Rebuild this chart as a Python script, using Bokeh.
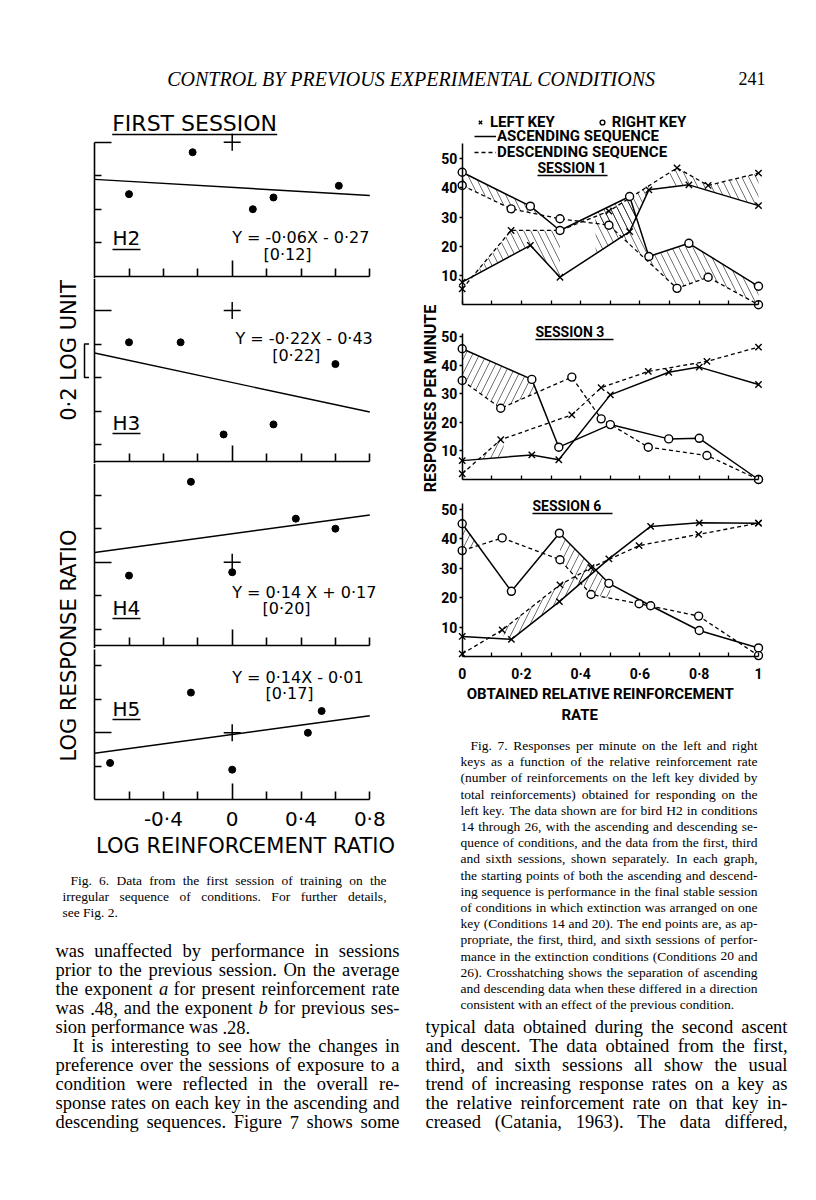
import math
import numpy as np
from bokeh.plotting import figure
from bokeh.layouts import column, row
from bokeh.models import (LinearAxis, FixedTicker, Label, Legend, LegendItem,
                          Range1d, CustomJSTickFormatter, Spacer, ColumnDataSource)
from bokeh.embed import file_html
from bokeh.resources import INLINE
from bokeh.core.properties import value, field

# ---------------- Fig. 6 data: log reinforcement ratio vs log response ratio ----------------
fig6_names = ["H2", "H3", "H4", "H5"]
h2_x = [-0.60, -0.23, 0.12, 0.24, 0.62]
h2_y = [-0.31, -0.06, -0.40, -0.33, -0.26]
h3_x = [-0.60, -0.30, -0.05, 0.24, 0.60]
h3_y = [-0.19, -0.19, -0.74, -0.68, -0.32]
h4_x = [-0.60, -0.24, 0.00, 0.37, 0.60]
h4_y = [-0.08, 0.48, -0.06, 0.26, 0.20]
h5_x = [-0.71, -0.24, 0.00, 0.44, 0.52]
h5_y = [-0.18, 0.24, -0.22, 0.00, 0.13]
fit_slope = [-0.06, -0.22, 0.14, 0.14]
fit_intercept = [-0.27, -0.43, 0.17, -0.01]
fit_equation = ["Y = -0·06X - 0·27", "Y = -0·22X - 0·43", "Y = 0·14 X + 0·17", "Y = 0·14X - 0·01"]
fit_error = ["[0·12]", "[0·22]", "[0·20]", "[0·17]"]
origin_x = [0.0]
origin_y = [0.0]
fig6_ticks = [-0.8, -0.6, -0.4, -0.2, 0.0, 0.2, 0.4, 0.6, 0.8]
fig6_tick_labels = [-0.4, 0.0, 0.4, 0.8]

# ---------------- Fig. 7 data: responses per minute vs obtained relative reinforcement rate ----------------
session_names = ["SESSION 1", "SESSION 3", "SESSION 6"]
s1_asc_x = [0.0, 0.23, 0.33, 0.565, 0.63, 0.765, 1.0]
s1_left_asc = [7.7, 20.3, 9.4, 25.0, 39.3, 41.0, 33.9]
s1_right_asc = [45.3, 33.7, 25.4, 37.0, 16.5, 21.0, 6.3]
s1_desc_x = [0.0, 0.165, 0.33, 0.495, 0.725, 0.83, 1.0]
s1_left_desc = [5.4, 25.4, 25.4, 32.0, 46.8, 40.8, 45.0]
s1_right_desc = [40.8, 32.8, 29.4, 27.2, 5.6, 9.4, 0.0]

s3_asc_x = [0.0, 0.235, 0.326, 0.50, 0.697, 0.80, 1.0]
s3_left_asc = [6.6, 8.6, 6.9, 29.6, 37.5, 39.3, 33.2]
s3_right_asc = [45.7, 35.0, 11.3, 19.2, 14.2, 14.4, 0.0]
s3_desc_x = [0.0, 0.13, 0.37, 0.469, 0.628, 0.826, 1.0]
s3_left_desc = [2.0, 13.9, 22.6, 32.1, 37.8, 41.3, 46.3]
s3_right_desc = [34.6, 24.9, 35.8, 21.2, 11.3, 8.4, 0.0]

s6_asc_x = [0.0, 0.166, 0.328, 0.495, 0.636, 0.80, 1.0]
s6_left_asc = [6.8, 5.8, 18.6, 33.1, 44.1, 45.3, 45.2]
s6_right_asc = [45.0, 22.1, 41.8, 24.8, 17.2, 8.8, 2.9]
s6_desc_x = [0.0, 0.135, 0.33, 0.435, 0.597, 0.798, 1.0]
s6_left_desc = [0.9, 9.0, 24.3, 30.1, 37.6, 41.4, 45.2]
s6_right_desc = [35.9, 40.2, 32.8, 21.0, 17.9, 13.7, 0.3]

# crosshatched spans: (key, from, to)
s1_hatch = [("right", 0.0, 0.26), ("left", 0.04, 0.33), ("left", 0.45, 0.63),
            ("left", 0.70, 1.0), ("right", 0.45, 1.0)]
s3_hatch = [("right", 0.0, 0.25), ("left", 0.06, 0.14)]
s6_hatch = [("right", 0.0, 0.05), ("left", 0.14, 0.45), ("right", 0.33, 0.50)]
fig7_y_ticks = [10, 20, 30, 40, 50]
fig7_x_ticks = [0.0, 0.2, 0.4, 0.6, 0.8, 1.0]
fig7_x_minor = [0.1, 0.3, 0.5, 0.7, 0.9]

# ---------------- texts ----------------
header_title = "CONTROL BY PREVIOUS EXPERIMENTAL CONDITIONS"
page_number = "241"
caption6 = ["Fig. 6. Data from the first session of training on the",
            "irregular sequence of conditions. For further details,",
            "see Fig. 2."]
body_left = ["was unaffected by performance in sessions",
             "prior to the previous session. On the average",
             "the exponent a for present reinforcement rate",
             "was .48, and the exponent b for previous ses-",
             "sion performance was .28.",
             "It is interesting to see how the changes in",
             "preference over the sessions of exposure to a",
             "condition were reflected in the overall re-",
             "sponse rates on each key in the ascending and",
             "descending sequences. Figure 7 shows some"]
caption7 = ["Fig. 7. Responses per minute on the left and right",
            "keys as a function of the relative reinforcement rate",
            "(number of reinforcements on the left key divided by",
            "total reinforcements) obtained for responding on the",
            "left key. The data shown are for bird H2 in conditions",
            "14 through 26, with the ascending and descending se-",
            "quence of conditions, and the data from the first, third",
            "and sixth sessions, shown separately. In each graph,",
            "the starting points of both the ascending and descend-",
            "ing sequence is performance in the final stable session",
            "of conditions in which extinction was arranged on one",
            "key (Conditions 14 and 20). The end points are, as ap-",
            "propriate, the first, third, and sixth sessions of perfor-",
            "mance in the extinction conditions (Conditions 20 and",
            "26). Crosshatching shows the separation of ascending",
            "and descending data when these differed in a direction",
            "consistent with an effect of the previous condition."]
body_right = ["typical data obtained during the second ascent",
              "and descent. The data obtained from the first,",
              "third, and sixth sessions all show the usual",
              "trend of increasing response rates on a key as",
              "the relative reinforcement rate on that key in-",
              "creased (Catania, 1963). The data differed,"]

FONT6 = "DejaVu Sans"
FONT7 = "Roboto"
SERIF = "Liberation Serif"
INK = "black"
BODY_PX = 18.5
CAP_PX = 13.5
NB = "\u00a0"

BLANK = CustomJSTickFormatter(code="return '';")
DOTFMT = CustomJSTickFormatter(code="""
    if (Math.abs(tick) < 1e-9) return '0';
    if (Math.abs(tick - 1) < 1e-9) return '1';
    return tick.toFixed(1).replace('.', '\u00b7');
""")

# Times-compatible advance widths (per 1000 em) used to justify the serif text lines
_TW = {' ': 250, ',': 250, '.': 250, '-': 333, '(': 333, ')': 333, ':': 278, ';': 278}
_TW.update({d: 500 for d in "0123456789"})
_TW.update(dict(zip("ABCDEFGHIJKLMNOPQRSTUVWXYZ",
                    [722, 667, 667, 722, 611, 556, 722, 722, 333, 389, 722, 611, 889,
                     722, 722, 556, 722, 667, 556, 611, 722, 722, 944, 722, 722, 611])))
_TW.update(dict(zip("abcdefghijklmnopqrstuvwxyz",
                    [444, 500, 444, 500, 444, 333, 500, 500, 278, 278, 500, 278, 778,
                     500, 500, 500, 500, 333, 389, 278, 500, 500, 722, 500, 500, 444])))


def tw(s, size):
    return sum(_TW.get(c, 500) for c in s) * size / 1000.0


def justified(lines, x_left, x_right, y_first, dy, size, free=(), indent=None, italic=()):
    indent = indent or {}
    out = dict(x=[], y=[], text=[], align=[], style=[])
    for j, line in enumerate(lines):
        y = y_first + dy * j
        x0 = x_left + indent.get(j, 0)
        words = line.split()
        if j in free or len(words) < 2:
            pos = x0
            for n, w in enumerate(words):
                out["x"].append(pos); out["y"].append(y); out["text"].append(w)
                out["align"].append("left")
                out["style"].append("italic" if (j, n) in italic else "normal")
                pos += tw(w, size) + tw(" ", size)
            continue
        total = sum(tw(w, size) for w in words)
        gap = (x_right - x0 - total) / (len(words) - 1)
        pos = x0
        for n, w in enumerate(words):
            last = n == len(words) - 1
            out["x"].append(x_right if last else pos)
            out["y"].append(y)
            out["text"].append(w)
            out["align"].append("right" if last else "left")
            out["style"].append("italic" if (j, n) in italic else "normal")
            pos += tw(w, size) + gap
    return out


def base(width, height, x0, x1, y0, y1, mb=0):
    p = figure(width=width, height=height,
               x_range=Range1d(x0, x1), y_range=Range1d(y0, y1),
               output_backend="svg", toolbar_location=None,
               x_axis_type=None, y_axis_type=None,
               min_border_left=0, min_border_right=0,
               min_border_top=0, min_border_bottom=mb)
    p.outline_line_color = None
    p.background_fill_color = "white"
    p.border_fill_color = "white"
    return p


def page_fig(left, top, right, bottom):
    # a figure whose data coordinates are page pixels (y downwards)
    return base(right - left, bottom - top, left, right, bottom, top)


def add_text_block(p, data, size):
    p.text(x="x", y="y", text="text", source=ColumnDataSource(data),
           text_align=field("align"), text_font_style=field("style"),
           text_font=value(SERIF), text_font_size=value(f"{size}px"),
           text_baseline="middle", text_color=INK)


# ---------------- header ----------------
head = page_fig(8, 8, 808, 100)
head.text(x=[411], y=[78], text=[header_title], text_font=value(SERIF),
          text_font_style=value("italic"), text_font_size=value("20px"),
          text_align="center", text_baseline="middle", text_color=INK)
head.text(x=[765], y=[78], text=[page_number], text_font=value(SERIF),
          text_font_size=value("18px"), text_align="right", text_baseline="middle",
          text_color=INK)

# ---------------- Fig. 6 ----------------
X0_6, SX6, SY6 = 231.7, 172.0, 167.5          # page x of X=0, px per unit (x, y)
P6_L, P6_W = 90, 310
fig6_zero = [141.7, 310.0, 561.7, 732.3]       # page y of Y=0 in each panel
fig6_rows = [(100, 278), (278, 463), (463, 648), (648, 802)]
fig6_base = [-0.8, -0.9, -0.5, -0.4]           # panel baseline value
fig6_top = [0.0, 0.2, 0.6, 0.5]                # top of left axis
fig6_label_pos = [(112, 237, 249), (112, 422, 433), (112, 607, 618), (112, 708, 719)]
fig6_eq_pos = [(231.7, 237), (235, 338), (231.7, 592), (231.7, 677)]
fig6_err_pos = [(263, 254), (271.7, 355), (262, 608), (265, 693)]
fig6_xy = [(h2_x, h2_y), (h3_x, h3_y), (h4_x, h4_y), (h5_x, h5_y)]

panels6 = []
for i, name in enumerate(fig6_names):
    top, bot = fig6_rows[i]
    y0 = fig6_zero[i]
    mb = 60 if i == 3 else 0

    def tox(px):
        return (px - X0_6) / SX6

    def toy(py, y0=y0):
        return (y0 - py) / SY6

    p = base(P6_W, bot - top + mb, tox(P6_L), tox(P6_L + P6_W), toy(bot), toy(top), mb=mb)

    minors = [round(t, 1) for t in np.arange(-1.0, 1.01, 0.2)
              if fig6_base[i] + 0.01 < t < fig6_top[i] - 0.01 and abs(t) > 1e-6]
    lo = toy(bot) if i < 3 else fig6_base[i]
    ya = LinearAxis(fixed_location=fig6_ticks[0], bounds=(lo, fig6_top[i]),
                    ticker=FixedTicker(ticks=[0.0], minor_ticks=minors),
                    major_tick_in=17, major_tick_out=0, minor_tick_in=7, minor_tick_out=0,
                    formatter=BLANK, axis_line_width=1.6, major_tick_line_width=1.6,
                    minor_tick_line_width=1.6, axis_line_color=INK)
    p.add_layout(ya, "left")
    xminor = [t for t in fig6_ticks if abs(t) > 1e-6 and t > fig6_ticks[0]]
    xa = LinearAxis(fixed_location=fig6_base[i], bounds=(fig6_ticks[0], fig6_ticks[-1]),
                    ticker=FixedTicker(ticks=[0.0], minor_ticks=xminor),
                    major_tick_in=16, major_tick_out=0, minor_tick_in=8, minor_tick_out=0,
                    formatter=BLANK, axis_line_width=1.6, major_tick_line_width=1.6,
                    minor_tick_line_width=1.6, axis_line_color=INK)
    p.add_layout(xa, "below")
    if i == 3:
        la = LinearAxis(ticker=FixedTicker(ticks=fig6_tick_labels), formatter=DOTFMT,
                        major_tick_in=0, major_tick_out=0, minor_tick_in=0, minor_tick_out=0,
                        axis_line_color=None, major_label_standoff=4,
                        axis_label="LOG REINFORCEMENT RATIO", axis_label_standoff=0,
                        major_label_text_font=FONT6, major_label_text_font_size="20px",
                        major_label_text_color=INK,
                        axis_label_text_font=FONT6, axis_label_text_font_size="21px",
                        axis_label_text_font_style="normal", axis_label_text_color=INK)
        p.add_layout(la, "below")

    xs, ys = fig6_xy[i]
    x_ends = [fig6_ticks[0], fig6_ticks[-1]]
    p.line(x_ends, [fit_slope[i] * v + fit_intercept[i] for v in x_ends],
           line_color=INK, line_width=1.4)
    p.scatter(xs, ys, marker="circle", size=7, fill_color=INK, line_color=INK)
    p.scatter(origin_x, origin_y, marker="cross", size=17, line_color=INK, line_width=1.5)

    lx, ly, uy = fig6_label_pos[i]
    p.add_layout(Label(x=tox(lx), y=toy(ly), text=name, text_font=FONT6,
                       text_font_size="20px", text_baseline="middle", text_color=INK))
    p.segment(x0=[tox(lx)], y0=[toy(uy)], x1=[tox(lx + 28)], y1=[toy(uy)],
              line_color=INK, line_width=1.5)
    ex, ey = fig6_eq_pos[i]
    p.add_layout(Label(x=tox(ex), y=toy(ey), text=fit_equation[i], text_font=FONT6,
                       text_font_size="16px", text_baseline="middle", text_color=INK))
    rx, ry = fig6_err_pos[i]
    p.add_layout(Label(x=tox(rx), y=toy(ry), text=fit_error[i], text_font=FONT6,
                       text_font_size="16px", text_baseline="middle", text_color=INK))
    if i == 0:
        p.add_layout(Label(x=tox(111.7), y=toy(123), text="FIRST SESSION", text_font=FONT6,
                           text_font_size="22px", text_baseline="middle", text_color=INK))
        p.segment(x0=[tox(111.7)], y0=[toy(134)], x1=[tox(276.7)], y1=[toy(134)],
                  line_color=INK, line_width=1.5)
    panels6.append(p)

lab6 = page_fig(8, 100, 90, 862)
lab6.text(x=[68, 68], y=[350, 645], text=["0·2 LOG UNIT", "LOG RESPONSE RATIO"],
          angle=math.pi / 2, text_font=value(FONT6), text_font_size=value("21px"),
          text_align="center", text_baseline="middle", text_color=INK)
b_top = fig6_zero[1] + 0.2 * SY6
b_bot = fig6_zero[1] + 0.4 * SY6
lab6.line(x=[88.5, 84, 84, 88.5], y=[b_top, b_top, b_bot, b_bot], line_color=INK, line_width=1.5)

# ---------------- Fig. 7 ----------------
X0_7, SX7 = 461.7, 296.3
P7_L, P7_R = 440, 808
fig7_zero = [304.2, 479.0, 656.0]
fig7_scale = [2.923, 2.86, 2.95]
fig7_rows = [(100, 312), (312, 487), (487, 662)]
fig7_border = [0, 0, 70]
fig7_axis_top = [55, 51, 52]
fig7_title_pos = [(537, 167, 175, 70), (535, 331.5, 339, 78), (532, 505, 513, 80)]
fig7_hatch_pattern = ["\\", "/", "/"]
sessions = [(s1_asc_x, s1_left_asc, s1_right_asc, s1_desc_x, s1_left_desc, s1_right_desc, s1_hatch),
            (s3_asc_x, s3_left_asc, s3_right_asc, s3_desc_x, s3_left_desc, s3_right_desc, s3_hatch),
            (s6_asc_x, s6_left_asc, s6_right_asc, s6_desc_x, s6_left_desc, s6_right_desc, s6_hatch)]
x_title = ("OBTAINED RELATIVE REINFORCEMENT" + NB * 13 + "\n" + "RATE" + NB * 24)

panels7 = []
for k in range(3):
    top, bot = fig7_rows[k]
    mb = fig7_border[k]
    y0, sc = fig7_zero[k], fig7_scale[k]

    def tox(px):
        return (px - X0_7) / SX7

    def toy(py, y0=y0, sc=sc):
        return (y0 - py) / sc

    p = base(P7_R - P7_L, bot - top + mb, tox(P7_L), tox(P7_R), toy(bot), toy(top), mb=mb)
    ax, la_, ra_, dx, ld_, rd_, hatch = sessions[k]

    for side, a, b in hatch:
        if side == "right":
            up_x, up_y, lo_x, lo_y = ax, ra_, dx, rd_
        else:
            up_x, up_y, lo_x, lo_y = dx, ld_, ax, la_
        grid = sorted(set([a, b] + [v for v in ax + dx if a < v < b]))
        p.varea(x=grid, y1=list(np.interp(grid, lo_x, lo_y)), y2=list(np.interp(grid, up_x, up_y)),
                fill_alpha=0, hatch_pattern=fig7_hatch_pattern[k], hatch_color=INK,
                hatch_weight=0.7, hatch_scale=14, hatch_alpha=0.8)

    r_asc = p.line(ax, la_, line_color=INK, line_width=1.5)
    p.line(ax, ra_, line_color=INK, line_width=1.5)
    r_desc = p.line(dx, ld_, line_color=INK, line_width=1.3, line_dash="4 3")
    p.line(dx, rd_, line_color=INK, line_width=1.3, line_dash="4 3")
    r_x = p.scatter(ax, la_, marker="x", size=9, line_color=INK, line_width=1.4)
    p.scatter(dx, ld_, marker="x", size=9, line_color=INK, line_width=1.4)
    r_o = p.scatter(ax, ra_, marker="circle", size=8, fill_color="white", line_color=INK, line_width=1.4)
    p.scatter(dx, rd_, marker="circle", size=8, fill_color="white", line_color=INK, line_width=1.4)

    ya = LinearAxis(fixed_location=0, bounds=(0, fig7_axis_top[k]),
                    ticker=FixedTicker(ticks=fig7_y_ticks),
                    major_tick_in=0, major_tick_out=3, minor_tick_in=0, minor_tick_out=0,
                    major_label_standoff=2, major_label_text_font=FONT7,
                    major_label_text_font_size="14px", major_label_text_font_style="bold",
                    major_label_text_color=INK, axis_line_width=1.5,
                    major_tick_line_width=1.5, axis_line_color=INK)
    p.add_layout(ya, "left")
    xa = LinearAxis(fixed_location=0, bounds=(fig7_x_ticks[0], fig7_x_ticks[-1]),
                    ticker=FixedTicker(ticks=fig7_x_ticks, minor_ticks=fig7_x_minor),
                    major_tick_in=4, major_tick_out=0, minor_tick_in=4, minor_tick_out=0,
                    axis_line_width=1.5, major_tick_line_width=1.3,
                    minor_tick_line_width=1.3, axis_line_color=INK,
                    formatter=BLANK)
    p.add_layout(xa, "below")
    if k == 2:
        xl = LinearAxis(ticker=FixedTicker(ticks=fig7_x_ticks), formatter=DOTFMT,
                        major_tick_in=0, major_tick_out=0, minor_tick_in=0, minor_tick_out=0,
                        axis_line_color=None, major_label_standoff=3,
                        major_label_text_font=FONT7, major_label_text_font_size="14px",
                        major_label_text_font_style="bold", major_label_text_color=INK,
                        axis_label=x_title,
                        axis_label_standoff=0, axis_label_text_font=FONT7,
                        axis_label_text_font_size="15px", axis_label_text_font_style="bold",
                        axis_label_text_color=INK)
        p.add_layout(xl, "below")

    tx, ty, uy, uw = fig7_title_pos[k]
    p.add_layout(Label(x=tox(tx), y=toy(ty), text=session_names[k], text_font=FONT7,
                       text_font_size="14px", text_font_style="bold",
                       text_baseline="middle", text_color=INK))
    p.segment(x0=[tox(tx)], y0=[toy(uy)], x1=[tox(tx + uw)], y1=[toy(uy)],
              line_color=INK, line_width=1.5)

    if k == 0:
        common = dict(padding=0, margin=0, border_line_color=None, background_fill_alpha=0,
                      label_text_font=FONT7, label_text_font_size="15px",
                      label_text_font_style="bold", label_text_color=INK,
                      label_height=14, glyph_height=14)
        leg1 = Legend(items=[LegendItem(label="LEFT KEY", renderers=[r_x]),
                             LegendItem(label="RIGHT KEY", renderers=[r_o])],
                      orientation="horizontal", location=(474 - P7_L, bot - 131),
                      glyph_width=12, label_standoff=4, spacing=41, **common)
        leg2 = Legend(items=[LegendItem(label="ASCENDING SEQUENCE", renderers=[r_asc])],
                      location=(474 - P7_L, bot - 145),
                      glyph_width=22, label_standoff=1, **common)
        leg3 = Legend(items=[LegendItem(label="DESCENDING SEQUENCE", renderers=[r_desc])],
                      location=(474 - P7_L, bot - 161),
                      glyph_width=22, label_standoff=1, **common)
        p.add_layout(leg1)
        p.add_layout(leg2)
        p.add_layout(leg3)
    panels7.append(p)

p7_bottom = fig7_rows[-1][1] + fig7_border[-1]
ylab7 = page_fig(400, 100, 440, p7_bottom)
ylab7.text(x=[430], y=[390], text=["RESPONSES   PER   MINUTE"], angle=math.pi / 2,
           text_font=value(FONT7), text_font_size=value("16px"),
           text_font_style=value("bold"), text_align="center", text_baseline="middle",
           text_color=INK)

# ---------------- captions and body text ----------------
ltxt = page_fig(8, 862, 400, 1184)
add_text_block(ltxt, justified(caption6, 62, 386, 880, 16, CAP_PX, free={2}, indent={0: 8}), CAP_PX)
add_text_block(ltxt, justified(body_left, 55, 399, 950.7, 19, BODY_PX, free={4},
                               indent={5: 17}, italic={(2, 2), (3, 5)}), BODY_PX)

rtxt = page_fig(400, p7_bottom, 808, 1184)
add_text_block(rtxt, justified(caption7, 460, 757, 745, 16.2, CAP_PX, free={16}, indent={0: 10}), CAP_PX)
add_text_block(rtxt, justified(body_right, 425, 787, 1026.7, 19, BODY_PX), BODY_PX)

left_group = column(row(lab6, column(*panels6)), ltxt)
right_group = column(row(ylab7, column(*panels7)), rtxt)
content = column(head, row(left_group, right_group))
page = row(Spacer(width=8, height=8), column(Spacer(width=8, height=8), content))

open("out.html", "w").write(file_html(page, INLINE, "Figs. 6 and 7"))
